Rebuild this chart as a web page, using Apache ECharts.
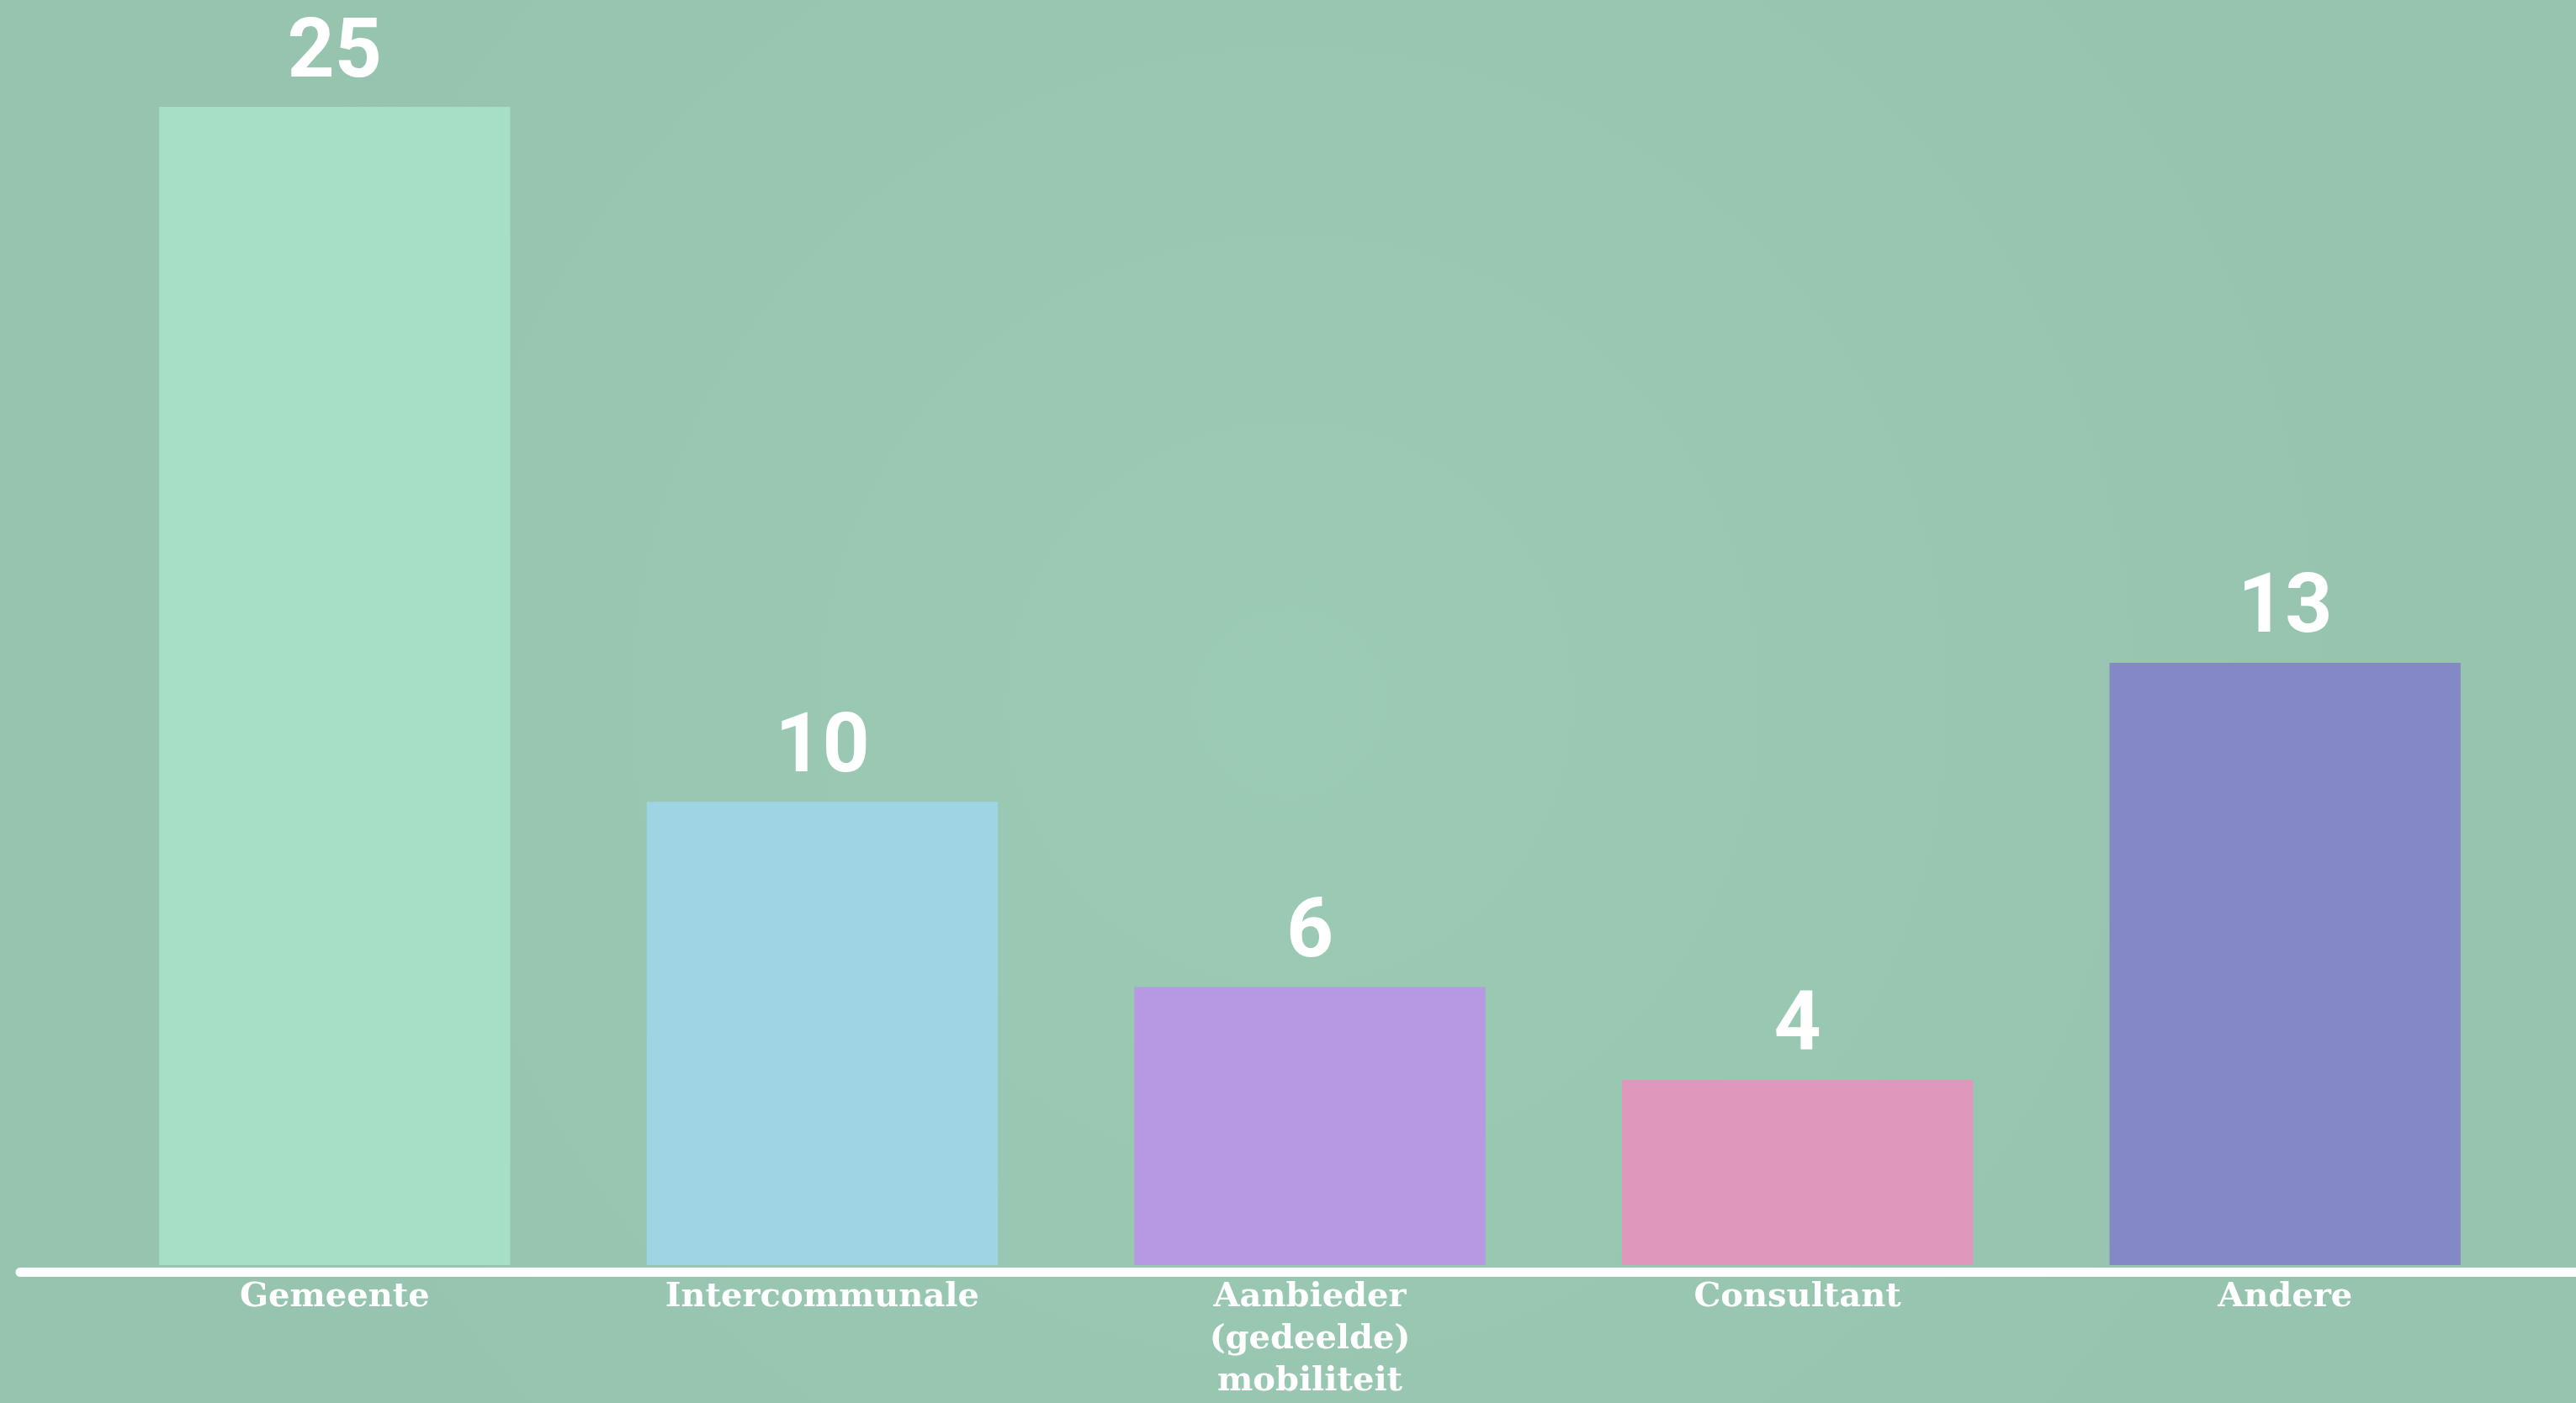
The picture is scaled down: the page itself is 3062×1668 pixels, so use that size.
<!DOCTYPE html>
<html>
<head>
<meta charset="utf-8">
<style>
  html, body { margin: 0; padding: 0; background: #9bcab4; }
  #chart { width: 3062px; height: 1668px; }
</style>
<script src="https://cdn.jsdelivr.net/npm/echarts@6/dist/echarts.min.js"></script>
</head>
<body>
<div id="chart"></div>
<script>
// categories and values
var categories = ['Gemeente', 'Intercommunale', 'Aanbieder\n(gedeelde)\nmobiliteit', 'Consultant', 'Andere'];
var counts = [25, 10, 6, 4, 13];
var barColors = ['#a6dec6', '#9fd4e5', '#b698e3', '#df98bb', '#8489c6'];

var chart = echarts.init(document.getElementById('chart'));

var option = {
  backgroundColor: {
    type: 'radial', x: 0.5, y: 0.5, r: 0.8,
    colorStops: [
      { offset: 0, color: '#9ccbb5' },
      { offset: 1, color: '#96c4ae' }
    ]
  },
  animation: false,
  grid: [
    { left: 108, right: 56, top: 127, bottom: 162 },
    // second grid only carries the long white base line
    { left: 24, right: 0, top: 127, bottom: 156 }
  ],
  xAxis: [
    {
      type: 'category',
      data: categories,
      gridIndex: 0,
      axisLine: { show: false },
      axisTick: { show: false },
      axisLabel: {
        color: '#ffffff',
        fontFamily: 'DejaVu Serif',
        fontWeight: 'bold',
        fontSize: 40,
        lineHeight: 50,
        margin: 14,
        interval: 0
      }
    },
    {
      type: 'value',
      gridIndex: 1,
      axisLine: { show: true, lineStyle: { color: '#ffffff', width: 11 } },
      axisTick: { show: false },
      axisLabel: { show: false },
      splitLine: { show: false }
    }
  ],
  yAxis: [
    { type: 'value', gridIndex: 0, min: 0, max: 25, show: false },
    { type: 'value', gridIndex: 1, show: false }
  ],
  series: [
    {
      type: 'bar',
      xAxisIndex: 0,
      yAxisIndex: 0,
      barCategoryGap: '28%',
      data: counts.map(function (v, i) {
        return { value: v, itemStyle: { color: barColors[i] } };
      }),
      label: {
        show: true,
        position: 'top',
        distance: 12,
        color: '#ffffff',
        fontFamily: 'Roboto',
        fontWeight: 'bold',
        fontSize: 98
      }
    }
  ]
};

chart.setOption(option);
</script>
</body>
</html>
